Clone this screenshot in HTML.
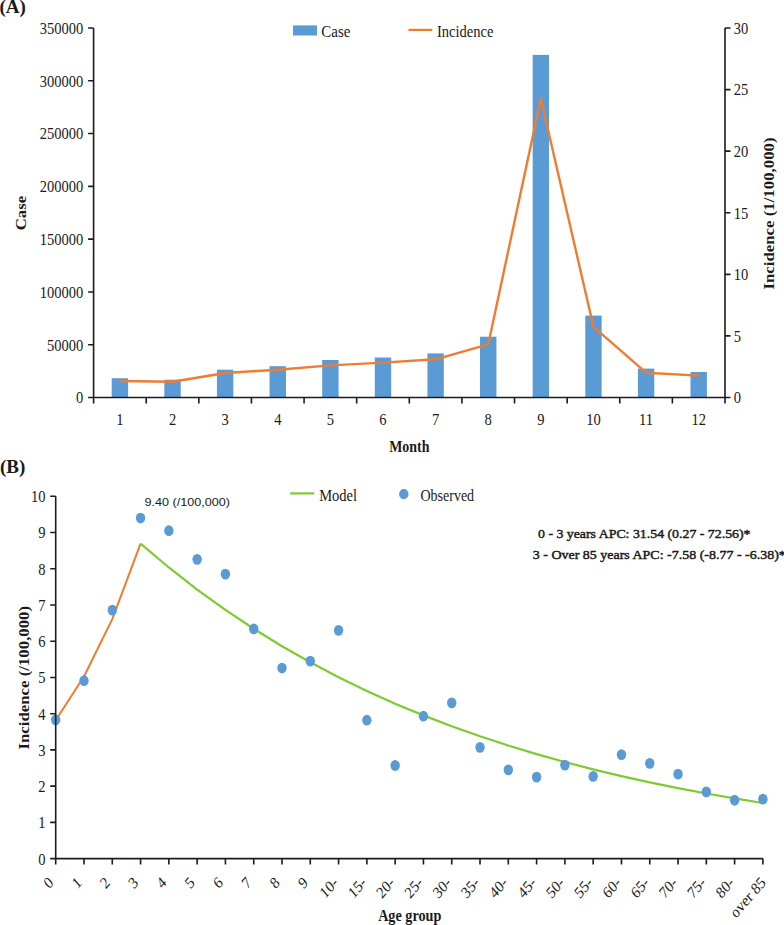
<!DOCTYPE html>
<html><head><meta charset="utf-8"><style>
html,body{margin:0;padding:0;background:#fff;width:784px;height:925px;overflow:hidden;}
svg{display:block;font-family:"Liberation Serif",serif;}
</style></head><body>
<svg width="784" height="925" viewBox="0 0 784 925"><rect x="111.71" y="378.20" width="16.40" height="19.30" fill="#5b9bd5"/>
<rect x="164.32" y="379.70" width="16.40" height="17.80" fill="#5b9bd5"/>
<rect x="216.94" y="369.70" width="16.40" height="27.80" fill="#5b9bd5"/>
<rect x="269.56" y="366.20" width="16.40" height="31.30" fill="#5b9bd5"/>
<rect x="322.18" y="360.00" width="16.40" height="37.50" fill="#5b9bd5"/>
<rect x="374.79" y="357.50" width="16.40" height="40.00" fill="#5b9bd5"/>
<rect x="427.41" y="353.40" width="16.40" height="44.10" fill="#5b9bd5"/>
<rect x="480.03" y="336.70" width="16.40" height="60.80" fill="#5b9bd5"/>
<rect x="532.64" y="54.90" width="16.40" height="342.60" fill="#5b9bd5"/>
<rect x="585.26" y="315.60" width="16.40" height="81.90" fill="#5b9bd5"/>
<rect x="637.88" y="368.60" width="16.40" height="28.90" fill="#5b9bd5"/>
<rect x="690.49" y="372.00" width="16.40" height="25.50" fill="#5b9bd5"/>
<polyline points="119.91,381.00 172.52,381.70 225.14,373.00 277.76,369.70 330.38,365.40 382.99,362.60 435.61,359.30 488.23,344.40 540.84,98.60 593.46,326.80 646.08,372.70 698.69,375.60" fill="none" stroke="#ed7d31" stroke-width="2.4" stroke-linejoin="round" stroke-linecap="round"/>
<path d="M93.6,28.0 V397.5 H725.0 V28.0" fill="none" stroke="#1c1c1c" stroke-width="1.6"/>
<text transform="translate(83.30,403.40) scale(0.84,1)" font-family="Liberation Serif" font-size="17.3" font-weight="normal" text-anchor="end" fill="#1a1a1a" >0</text>
<text transform="translate(83.30,350.61) scale(0.84,1)" font-family="Liberation Serif" font-size="17.3" font-weight="normal" text-anchor="end" fill="#1a1a1a" >50000</text>
<text transform="translate(83.30,297.83) scale(0.84,1)" font-family="Liberation Serif" font-size="17.3" font-weight="normal" text-anchor="end" fill="#1a1a1a" >100000</text>
<text transform="translate(83.30,245.04) scale(0.84,1)" font-family="Liberation Serif" font-size="17.3" font-weight="normal" text-anchor="end" fill="#1a1a1a" >150000</text>
<text transform="translate(83.30,192.26) scale(0.84,1)" font-family="Liberation Serif" font-size="17.3" font-weight="normal" text-anchor="end" fill="#1a1a1a" >200000</text>
<text transform="translate(83.30,139.47) scale(0.84,1)" font-family="Liberation Serif" font-size="17.3" font-weight="normal" text-anchor="end" fill="#1a1a1a" >250000</text>
<text transform="translate(83.30,86.69) scale(0.84,1)" font-family="Liberation Serif" font-size="17.3" font-weight="normal" text-anchor="end" fill="#1a1a1a" >300000</text>
<text transform="translate(83.30,33.90) scale(0.84,1)" font-family="Liberation Serif" font-size="17.3" font-weight="normal" text-anchor="end" fill="#1a1a1a" >350000</text>
<text transform="translate(733.80,403.40) scale(0.84,1)" font-family="Liberation Serif" font-size="17.3" font-weight="normal" text-anchor="start" fill="#1a1a1a" >0</text>
<text transform="translate(733.80,341.82) scale(0.84,1)" font-family="Liberation Serif" font-size="17.3" font-weight="normal" text-anchor="start" fill="#1a1a1a" >5</text>
<text transform="translate(733.80,280.23) scale(0.84,1)" font-family="Liberation Serif" font-size="17.3" font-weight="normal" text-anchor="start" fill="#1a1a1a" >10</text>
<text transform="translate(733.80,218.65) scale(0.84,1)" font-family="Liberation Serif" font-size="17.3" font-weight="normal" text-anchor="start" fill="#1a1a1a" >15</text>
<text transform="translate(733.80,157.07) scale(0.84,1)" font-family="Liberation Serif" font-size="17.3" font-weight="normal" text-anchor="start" fill="#1a1a1a" >20</text>
<text transform="translate(733.80,95.48) scale(0.84,1)" font-family="Liberation Serif" font-size="17.3" font-weight="normal" text-anchor="start" fill="#1a1a1a" >25</text>
<text transform="translate(733.80,33.90) scale(0.84,1)" font-family="Liberation Serif" font-size="17.3" font-weight="normal" text-anchor="start" fill="#1a1a1a" >30</text>
<text transform="translate(119.91,424.60) scale(0.84,1)" font-family="Liberation Serif" font-size="17.3" font-weight="normal" text-anchor="middle" fill="#1a1a1a" >1</text>
<text transform="translate(172.52,424.60) scale(0.84,1)" font-family="Liberation Serif" font-size="17.3" font-weight="normal" text-anchor="middle" fill="#1a1a1a" >2</text>
<text transform="translate(225.14,424.60) scale(0.84,1)" font-family="Liberation Serif" font-size="17.3" font-weight="normal" text-anchor="middle" fill="#1a1a1a" >3</text>
<text transform="translate(277.76,424.60) scale(0.84,1)" font-family="Liberation Serif" font-size="17.3" font-weight="normal" text-anchor="middle" fill="#1a1a1a" >4</text>
<text transform="translate(330.38,424.60) scale(0.84,1)" font-family="Liberation Serif" font-size="17.3" font-weight="normal" text-anchor="middle" fill="#1a1a1a" >5</text>
<text transform="translate(382.99,424.60) scale(0.84,1)" font-family="Liberation Serif" font-size="17.3" font-weight="normal" text-anchor="middle" fill="#1a1a1a" >6</text>
<text transform="translate(435.61,424.60) scale(0.84,1)" font-family="Liberation Serif" font-size="17.3" font-weight="normal" text-anchor="middle" fill="#1a1a1a" >7</text>
<text transform="translate(488.23,424.60) scale(0.84,1)" font-family="Liberation Serif" font-size="17.3" font-weight="normal" text-anchor="middle" fill="#1a1a1a" >8</text>
<text transform="translate(540.84,424.60) scale(0.84,1)" font-family="Liberation Serif" font-size="17.3" font-weight="normal" text-anchor="middle" fill="#1a1a1a" >9</text>
<text transform="translate(593.46,424.60) scale(0.84,1)" font-family="Liberation Serif" font-size="17.3" font-weight="normal" text-anchor="middle" fill="#1a1a1a" >10</text>
<text transform="translate(646.08,424.60) scale(0.84,1)" font-family="Liberation Serif" font-size="17.3" font-weight="normal" text-anchor="middle" fill="#1a1a1a" >11</text>
<text transform="translate(698.69,424.60) scale(0.84,1)" font-family="Liberation Serif" font-size="17.3" font-weight="normal" text-anchor="middle" fill="#1a1a1a" >12</text>
<path d="M88.1,397.50H93.6M88.1,344.71H93.6M88.1,291.93H93.6M88.1,239.14H93.6M88.1,186.36H93.6M88.1,133.57H93.6M88.1,80.79H93.6M88.1,28.00H93.6M725.0,397.50H730.5M725.0,335.92H730.5M725.0,274.33H730.5M725.0,212.75H730.5M725.0,151.17H730.5M725.0,89.58H730.5M725.0,28.00H730.5M93.60,397.5V403.5M146.22,397.5V403.5M198.83,397.5V403.5M251.45,397.5V403.5M304.07,397.5V403.5M356.68,397.5V403.5M409.30,397.5V403.5M461.92,397.5V403.5M514.53,397.5V403.5M567.15,397.5V403.5M619.77,397.5V403.5M672.38,397.5V403.5M725.00,397.5V403.5" stroke="#1c1c1c" stroke-width="1.6" fill="none"/>
<text transform="translate(409.30,451.50) scale(0.82,1)" font-family="Liberation Serif" font-size="17" font-weight="bold" text-anchor="middle" fill="#1a1a1a" >Month</text>
<text transform="translate(26.00,213.00) scale(0.86,1) rotate(-90)" font-family="Liberation Serif" font-size="16.8" font-weight="bold" text-anchor="middle" fill="#1a1a1a" >Case</text>
<text transform="translate(774.00,213.50) scale(0.86,1) rotate(-90)" font-family="Liberation Serif" font-size="16.8" font-weight="bold" text-anchor="middle" fill="#1a1a1a" >Incidence (1/100,000)</text>
<text transform="translate(-0.50,13.20)" font-family="Liberation Serif" font-size="19" font-weight="bold" text-anchor="start" fill="#1a1a1a" >(A)</text>
<rect x="293" y="25.4" width="24" height="10.1" fill="#5b9bd5"/>
<text transform="translate(321.30,36.50) scale(0.88,1)" font-family="Liberation Serif" font-size="17" font-weight="normal" text-anchor="start" fill="#1a1a1a" >Case</text>
<line x1="408.5" y1="29.9" x2="432.3" y2="29.9" stroke="#ed7d31" stroke-width="2.2"/>
<text transform="translate(437.00,36.50) scale(0.855,1)" font-family="Liberation Serif" font-size="17" font-weight="normal" text-anchor="start" fill="#1a1a1a" >Incidence</text>
<polyline points="55.70,720.20 83.99,676.55 112.28,619.13 140.56,543.60" fill="none" stroke="#ed7d31" stroke-width="2" stroke-linejoin="round"/>
<polyline points="140.56,543.60 168.85,567.48 197.14,589.54 225.43,609.94 253.72,628.79 282.00,646.21 310.29,662.31 338.58,677.19 366.87,690.94 395.16,703.65 423.44,715.39 451.73,726.25 480.02,736.28 508.31,745.55 536.60,754.12 564.88,762.04 593.17,769.36 621.46,776.12 649.75,782.37 678.04,788.15 706.32,793.49 734.61,798.43 762.90,802.99" fill="none" stroke="#7dcb31" stroke-width="2.2" stroke-linejoin="round"/>
<ellipse cx="55.70" cy="719.84" rx="4.7" ry="5.4" fill="#5b9bd5"/>
<ellipse cx="83.99" cy="680.71" rx="4.7" ry="5.4" fill="#5b9bd5"/>
<ellipse cx="112.28" cy="610.06" rx="4.7" ry="5.4" fill="#5b9bd5"/>
<ellipse cx="140.56" cy="518.04" rx="4.7" ry="5.4" fill="#5b9bd5"/>
<ellipse cx="168.85" cy="530.72" rx="4.7" ry="5.4" fill="#5b9bd5"/>
<ellipse cx="197.14" cy="559.34" rx="4.7" ry="5.4" fill="#5b9bd5"/>
<ellipse cx="225.43" cy="574.19" rx="4.7" ry="5.4" fill="#5b9bd5"/>
<ellipse cx="253.72" cy="628.90" rx="4.7" ry="5.4" fill="#5b9bd5"/>
<ellipse cx="282.00" cy="668.03" rx="4.7" ry="5.4" fill="#5b9bd5"/>
<ellipse cx="310.29" cy="661.15" rx="4.7" ry="5.4" fill="#5b9bd5"/>
<ellipse cx="338.58" cy="630.35" rx="4.7" ry="5.4" fill="#5b9bd5"/>
<ellipse cx="366.87" cy="720.20" rx="4.7" ry="5.4" fill="#5b9bd5"/>
<ellipse cx="395.16" cy="765.49" rx="4.7" ry="5.4" fill="#5b9bd5"/>
<ellipse cx="423.44" cy="716.22" rx="4.7" ry="5.4" fill="#5b9bd5"/>
<ellipse cx="451.73" cy="702.81" rx="4.7" ry="5.4" fill="#5b9bd5"/>
<ellipse cx="480.02" cy="747.37" rx="4.7" ry="5.4" fill="#5b9bd5"/>
<ellipse cx="508.31" cy="769.84" rx="4.7" ry="5.4" fill="#5b9bd5"/>
<ellipse cx="536.60" cy="777.08" rx="4.7" ry="5.4" fill="#5b9bd5"/>
<ellipse cx="564.88" cy="765.13" rx="4.7" ry="5.4" fill="#5b9bd5"/>
<ellipse cx="593.17" cy="776.36" rx="4.7" ry="5.4" fill="#5b9bd5"/>
<ellipse cx="621.46" cy="754.62" rx="4.7" ry="5.4" fill="#5b9bd5"/>
<ellipse cx="649.75" cy="763.32" rx="4.7" ry="5.4" fill="#5b9bd5"/>
<ellipse cx="678.04" cy="774.18" rx="4.7" ry="5.4" fill="#5b9bd5"/>
<ellipse cx="706.32" cy="791.94" rx="4.7" ry="5.4" fill="#5b9bd5"/>
<ellipse cx="734.61" cy="800.27" rx="4.7" ry="5.4" fill="#5b9bd5"/>
<ellipse cx="762.90" cy="799.18" rx="4.7" ry="5.4" fill="#5b9bd5"/>
<path d="M55.7,496.3 V858.6 H762.90" fill="none" stroke="#1c1c1c" stroke-width="1.6"/>
<text transform="translate(45.60,864.50) scale(0.84,1)" font-family="Liberation Serif" font-size="17.3" font-weight="normal" text-anchor="end" fill="#1a1a1a" >0</text>
<text transform="translate(45.60,828.27) scale(0.84,1)" font-family="Liberation Serif" font-size="17.3" font-weight="normal" text-anchor="end" fill="#1a1a1a" >1</text>
<text transform="translate(45.60,792.04) scale(0.84,1)" font-family="Liberation Serif" font-size="17.3" font-weight="normal" text-anchor="end" fill="#1a1a1a" >2</text>
<text transform="translate(45.60,755.81) scale(0.84,1)" font-family="Liberation Serif" font-size="17.3" font-weight="normal" text-anchor="end" fill="#1a1a1a" >3</text>
<text transform="translate(45.60,719.58) scale(0.84,1)" font-family="Liberation Serif" font-size="17.3" font-weight="normal" text-anchor="end" fill="#1a1a1a" >4</text>
<text transform="translate(45.60,683.35) scale(0.84,1)" font-family="Liberation Serif" font-size="17.3" font-weight="normal" text-anchor="end" fill="#1a1a1a" >5</text>
<text transform="translate(45.60,647.12) scale(0.84,1)" font-family="Liberation Serif" font-size="17.3" font-weight="normal" text-anchor="end" fill="#1a1a1a" >6</text>
<text transform="translate(45.60,610.89) scale(0.84,1)" font-family="Liberation Serif" font-size="17.3" font-weight="normal" text-anchor="end" fill="#1a1a1a" >7</text>
<text transform="translate(45.60,574.66) scale(0.84,1)" font-family="Liberation Serif" font-size="17.3" font-weight="normal" text-anchor="end" fill="#1a1a1a" >8</text>
<text transform="translate(45.60,538.43) scale(0.84,1)" font-family="Liberation Serif" font-size="17.3" font-weight="normal" text-anchor="end" fill="#1a1a1a" >9</text>
<text transform="translate(45.60,502.20) scale(0.84,1)" font-family="Liberation Serif" font-size="17.3" font-weight="normal" text-anchor="end" fill="#1a1a1a" >10</text>
<path d="M50.2,858.60H55.7M50.2,822.37H55.7M50.2,786.14H55.7M50.2,749.91H55.7M50.2,713.68H55.7M50.2,677.45H55.7M50.2,641.22H55.7M50.2,604.99H55.7M50.2,568.76H55.7M50.2,532.53H55.7M50.2,496.30H55.7M55.70,858.6V864.6M83.99,858.6V864.6M112.28,858.6V864.6M140.56,858.6V864.6M168.85,858.6V864.6M197.14,858.6V864.6M225.43,858.6V864.6M253.72,858.6V864.6M282.00,858.6V864.6M310.29,858.6V864.6M338.58,858.6V864.6M366.87,858.6V864.6M395.16,858.6V864.6M423.44,858.6V864.6M451.73,858.6V864.6M480.02,858.6V864.6M508.31,858.6V864.6M536.60,858.6V864.6M564.88,858.6V864.6M593.17,858.6V864.6M621.46,858.6V864.6M649.75,858.6V864.6M678.04,858.6V864.6M706.32,858.6V864.6M734.61,858.6V864.6M762.90,858.6V864.6" stroke="#1c1c1c" stroke-width="1.6" fill="none"/>
<text transform="translate(54.15,883.60) scale(0.86,1) rotate(-45)" font-family="Liberation Serif" font-size="16.5" font-weight="normal" text-anchor="end" fill="#1a1a1a" >0</text>
<text transform="translate(82.44,883.60) scale(0.86,1) rotate(-45)" font-family="Liberation Serif" font-size="16.5" font-weight="normal" text-anchor="end" fill="#1a1a1a" >1</text>
<text transform="translate(110.73,883.60) scale(0.86,1) rotate(-45)" font-family="Liberation Serif" font-size="16.5" font-weight="normal" text-anchor="end" fill="#1a1a1a" >2</text>
<text transform="translate(139.01,883.60) scale(0.86,1) rotate(-45)" font-family="Liberation Serif" font-size="16.5" font-weight="normal" text-anchor="end" fill="#1a1a1a" >3</text>
<text transform="translate(167.30,883.60) scale(0.86,1) rotate(-45)" font-family="Liberation Serif" font-size="16.5" font-weight="normal" text-anchor="end" fill="#1a1a1a" >4</text>
<text transform="translate(195.59,883.60) scale(0.86,1) rotate(-45)" font-family="Liberation Serif" font-size="16.5" font-weight="normal" text-anchor="end" fill="#1a1a1a" >5</text>
<text transform="translate(223.88,883.60) scale(0.86,1) rotate(-45)" font-family="Liberation Serif" font-size="16.5" font-weight="normal" text-anchor="end" fill="#1a1a1a" >6</text>
<text transform="translate(252.17,883.60) scale(0.86,1) rotate(-45)" font-family="Liberation Serif" font-size="16.5" font-weight="normal" text-anchor="end" fill="#1a1a1a" >7</text>
<text transform="translate(280.45,883.60) scale(0.86,1) rotate(-45)" font-family="Liberation Serif" font-size="16.5" font-weight="normal" text-anchor="end" fill="#1a1a1a" >8</text>
<text transform="translate(308.74,883.60) scale(0.86,1) rotate(-45)" font-family="Liberation Serif" font-size="16.5" font-weight="normal" text-anchor="end" fill="#1a1a1a" >9</text>
<text transform="translate(338.73,883.60) scale(0.86,1) rotate(-45)" font-family="Liberation Serif" font-size="16.5" font-weight="normal" text-anchor="end" fill="#1a1a1a" >10-</text>
<text transform="translate(367.02,883.60) scale(0.86,1) rotate(-45)" font-family="Liberation Serif" font-size="16.5" font-weight="normal" text-anchor="end" fill="#1a1a1a" >15-</text>
<text transform="translate(395.31,883.60) scale(0.86,1) rotate(-45)" font-family="Liberation Serif" font-size="16.5" font-weight="normal" text-anchor="end" fill="#1a1a1a" >20-</text>
<text transform="translate(423.59,883.60) scale(0.86,1) rotate(-45)" font-family="Liberation Serif" font-size="16.5" font-weight="normal" text-anchor="end" fill="#1a1a1a" >25-</text>
<text transform="translate(451.88,883.60) scale(0.86,1) rotate(-45)" font-family="Liberation Serif" font-size="16.5" font-weight="normal" text-anchor="end" fill="#1a1a1a" >30-</text>
<text transform="translate(480.17,883.60) scale(0.86,1) rotate(-45)" font-family="Liberation Serif" font-size="16.5" font-weight="normal" text-anchor="end" fill="#1a1a1a" >35-</text>
<text transform="translate(508.46,883.60) scale(0.86,1) rotate(-45)" font-family="Liberation Serif" font-size="16.5" font-weight="normal" text-anchor="end" fill="#1a1a1a" >40-</text>
<text transform="translate(536.75,883.60) scale(0.86,1) rotate(-45)" font-family="Liberation Serif" font-size="16.5" font-weight="normal" text-anchor="end" fill="#1a1a1a" >45-</text>
<text transform="translate(565.03,883.60) scale(0.86,1) rotate(-45)" font-family="Liberation Serif" font-size="16.5" font-weight="normal" text-anchor="end" fill="#1a1a1a" >50-</text>
<text transform="translate(593.32,883.60) scale(0.86,1) rotate(-45)" font-family="Liberation Serif" font-size="16.5" font-weight="normal" text-anchor="end" fill="#1a1a1a" >55-</text>
<text transform="translate(621.61,883.60) scale(0.86,1) rotate(-45)" font-family="Liberation Serif" font-size="16.5" font-weight="normal" text-anchor="end" fill="#1a1a1a" >60-</text>
<text transform="translate(649.90,883.60) scale(0.86,1) rotate(-45)" font-family="Liberation Serif" font-size="16.5" font-weight="normal" text-anchor="end" fill="#1a1a1a" >65-</text>
<text transform="translate(678.19,883.60) scale(0.86,1) rotate(-45)" font-family="Liberation Serif" font-size="16.5" font-weight="normal" text-anchor="end" fill="#1a1a1a" >70-</text>
<text transform="translate(706.47,883.60) scale(0.86,1) rotate(-45)" font-family="Liberation Serif" font-size="16.5" font-weight="normal" text-anchor="end" fill="#1a1a1a" >75-</text>
<text transform="translate(734.76,883.60) scale(0.86,1) rotate(-45)" font-family="Liberation Serif" font-size="16.5" font-weight="normal" text-anchor="end" fill="#1a1a1a" >80-</text>
<text transform="translate(766.45,883.60) scale(0.86,1) rotate(-45)" font-family="Liberation Serif" font-size="16.5" font-weight="normal" text-anchor="end" fill="#1a1a1a" >over 85</text>
<text transform="translate(409.70,921.00) scale(0.86,1)" font-family="Liberation Serif" font-size="16.5" font-weight="bold" text-anchor="middle" fill="#1a1a1a" >Age group</text>
<text transform="translate(28.50,677.70) scale(0.86,1) rotate(-90)" font-family="Liberation Serif" font-size="16.8" font-weight="bold" text-anchor="middle" fill="#1a1a1a" >Incidence (/100,000)</text>
<text transform="translate(0.00,472.80)" font-family="Liberation Serif" font-size="19" font-weight="bold" text-anchor="start" fill="#1a1a1a" >(B)</text>
<line x1="290.2" y1="493.4" x2="314.3" y2="493.4" stroke="#7dcb31" stroke-width="2.2"/>
<text transform="translate(319.20,500.60) scale(0.88,1)" font-family="Liberation Serif" font-size="16.5" font-weight="normal" text-anchor="start" fill="#1a1a1a" >Model</text>
<ellipse cx="403.8" cy="494.2" rx="4.7" ry="5.1" fill="#5b9bd5"/>
<text transform="translate(420.40,500.60) scale(0.835,1)" font-family="Liberation Serif" font-size="16.8" font-weight="normal" text-anchor="start" fill="#1a1a1a" >Observed</text>
<text transform="translate(144.50,505.70)" font-family="Liberation Sans" font-size="11.2" font-weight="normal" text-anchor="start" fill="#1a1a1a" textLength="85.5" lengthAdjust="spacingAndGlyphs">9.40 (/100,000)</text>
<text transform="translate(538.00,537.90)" font-family="Liberation Serif" font-size="12.8" font-weight="normal" text-anchor="start" fill="#1a1a1a" stroke="#1a1a1a" stroke-width="0.45" textLength="212.5" lengthAdjust="spacingAndGlyphs">0 - 3 years APC: 31.54 (0.27 - 72.56)*</text>
<text transform="translate(532.80,559.10)" font-family="Liberation Serif" font-size="12.8" font-weight="normal" text-anchor="start" fill="#1a1a1a" stroke="#1a1a1a" stroke-width="0.45" textLength="253" lengthAdjust="spacingAndGlyphs">3 - Over 85 years APC: -7.58 (-8.77 - -6.38)*</text></svg>
</body></html>
